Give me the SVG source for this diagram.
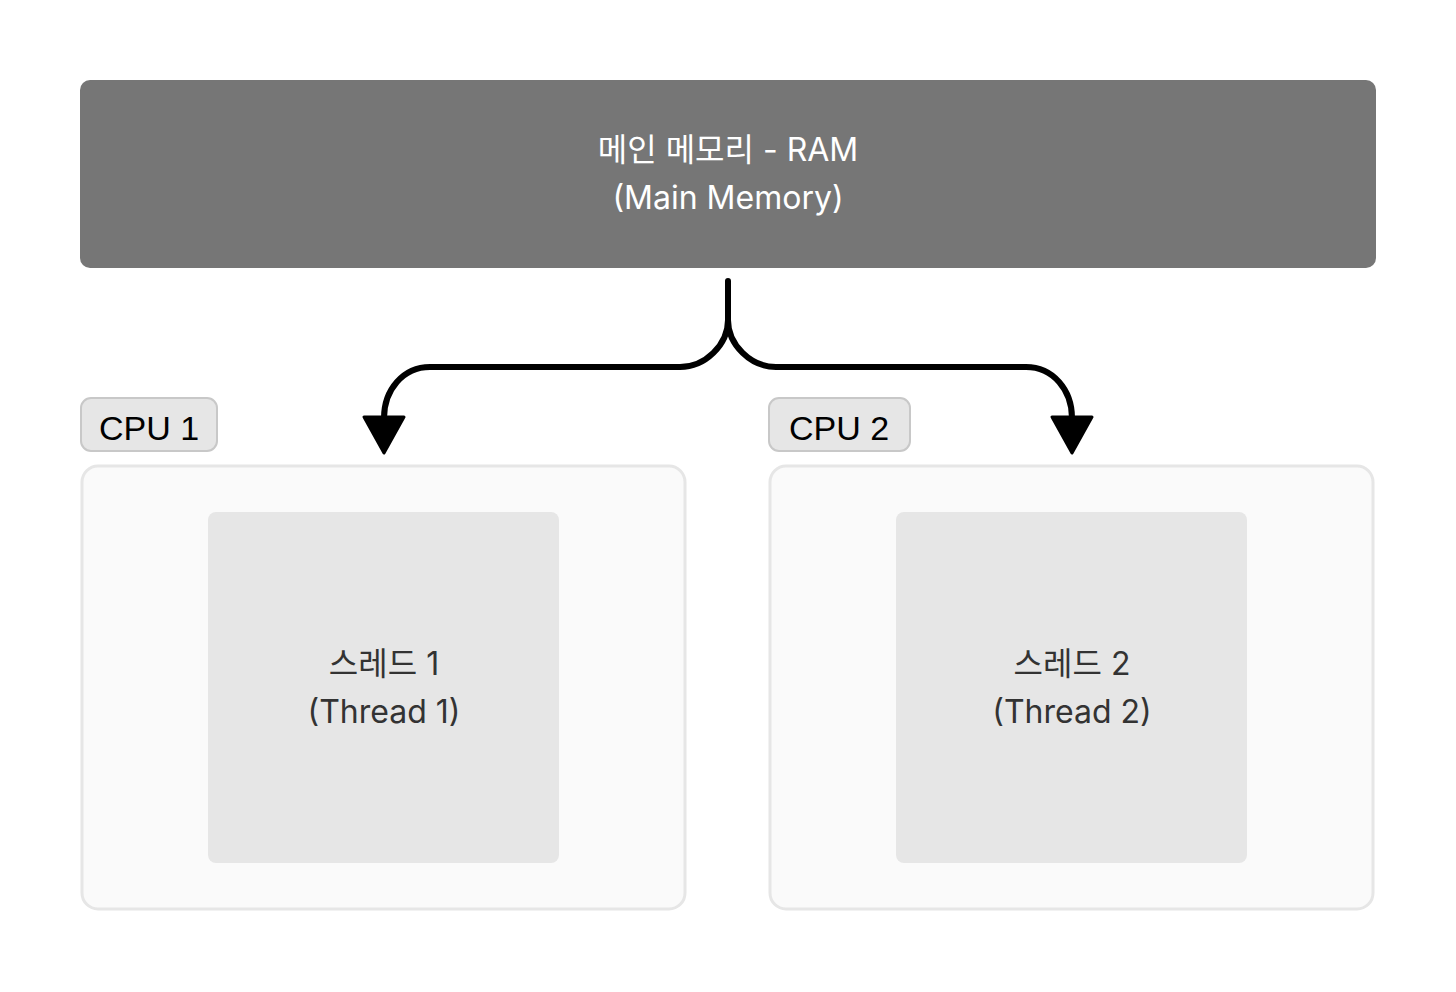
<svg xmlns="http://www.w3.org/2000/svg" width="1456" height="992" viewBox="0 0 1456 992">
<style>
.t{font-family:Inter,"Noto Sans CJK KR",sans-serif;font-size:32px;text-anchor:middle}
.lbl{font-family:"Liberation Sans",Arial,sans-serif;font-size:34px;text-anchor:middle;fill:#000}
.cpu{fill:#fafafa;stroke:#e6e6e6;stroke-width:3}
.thr{fill:#e6e6e6}
.tag{fill:#e6e6e6;stroke:#c8c8c8;stroke-width:2}
.conn{fill:none;stroke:#000;stroke-width:6;stroke-linecap:round;stroke-linejoin:round}
.head{fill:#000;stroke:#000;stroke-width:3;stroke-linejoin:round}
</style>
<rect width="1456" height="992" fill="#fff"/>
<g id="ram">
<rect x="80" y="80" width="1296" height="188" rx="10" fill="#767676"/>
<text class="t" x="728" y="161" fill="#fff">메인 메모리 - RAM</text>
<text class="t" x="728" y="209" fill="#fff">(Main Memory)</text>
</g>
<g id="cpu1">
<rect class="cpu" x="82" y="466" width="603" height="443" rx="16"/>
<rect class="tag" x="81" y="398" width="136" height="53" rx="10"/>
<text class="lbl" x="149" y="440">CPU 1</text>
</g>
<g id="cpu2">
<rect class="cpu" x="770" y="466" width="603" height="443" rx="16"/>
<rect class="tag" x="769" y="398" width="141" height="53" rx="10"/>
<text class="lbl" x="839" y="440">CPU 2</text>
</g>
<g id="thread1">
<rect class="thr" x="208" y="512" width="351" height="351" rx="8"/>
<text class="t" x="384" y="675" fill="#333">스레드 1</text>
<text class="t" x="384" y="723" fill="#333">(Thread 1)</text>
</g>
<g id="thread2">
<rect class="thr" x="896" y="512" width="351" height="351" rx="8"/>
<text class="t" x="1072" y="675" fill="#333">스레드 2</text>
<text class="t" x="1072" y="723" fill="#333">(Thread 2)</text>
</g>
<g id="connectors">
<path class="conn" d="M728 281 V320 C728 345 705 367 680 367 H430 C403 367 384 390 384 418"/>
<path class="conn" d="M728 320 C728 345 751 367 776 367 H1026 C1053 367 1072 390 1072 418"/>
<polygon class="head" points="364,417 404,417 384,453"/>
<polygon class="head" points="1052,417 1092,417 1072,453"/>
</g>
</svg>
